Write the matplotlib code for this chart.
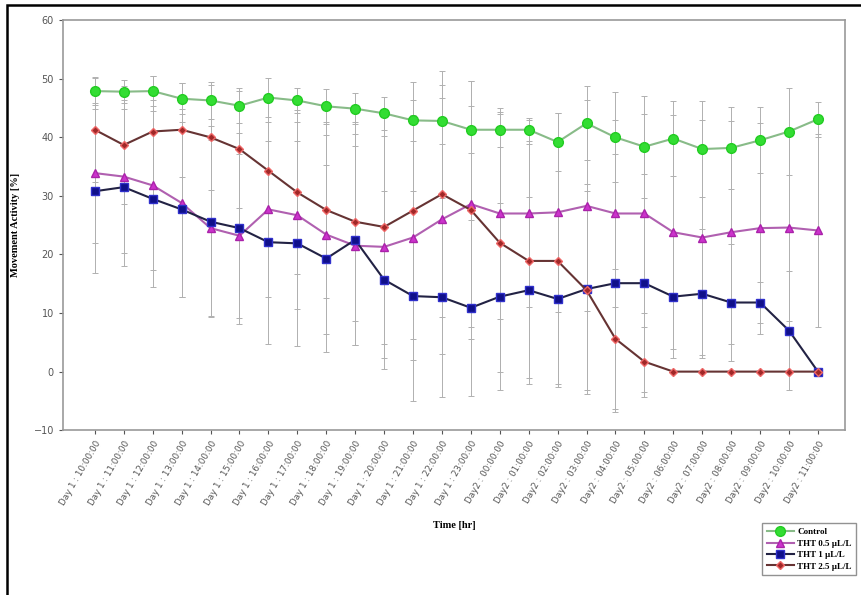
import matplotlib
matplotlib.use("Agg")
import matplotlib.pyplot as plt
from matplotlib.patches import Rectangle
import numpy as np

# time points
hours_day1 = ["10", "11", "12", "13", "14", "15", "16", "17", "18", "19", "20", "21", "22", "23"]
hours_day2 = ["00", "01", "02", "03", "04", "05", "06", "07", "08", "09", "10", "11"]
tick_labels = ["Day 1 : " + h + ":00:00" for h in hours_day1] + ["Day2 : " + h + ":00:00" for h in hours_day2]

control = [47.9, 47.8, 47.9, 46.6, 46.3, 45.4, 46.8, 46.3, 45.3, 44.9, 44.1, 42.9, 42.8, 41.3,
           41.3, 41.3, 39.2, 42.4, 40.0, 38.4, 39.8, 38.0, 38.2, 39.5, 41.0, 43.1]
tht_05 = [33.9, 33.3, 31.8, 28.8, 24.5, 23.2, 27.7, 26.7, 23.4, 21.5, 21.3, 22.9, 26.0, 28.6,
          27.0, 27.0, 27.2, 28.3, 27.0, 27.0, 23.8, 22.9, 23.8, 24.5, 24.6, 24.1]
tht_1 = [30.8, 31.5, 29.5, 27.7, 25.6, 24.5, 22.1, 21.9, 19.3, 22.5, 15.7, 12.9, 12.7, 10.9,
         12.8, 13.9, 12.4, 14.1, 15.1, 15.1, 12.8, 13.3, 11.8, 11.8, 7.0, 0.0]
tht_25 = [41.3, 38.7, 41.0, 41.3, 40.0, 38.0, 34.3, 30.6, 27.6, 25.6, 24.7, 27.5, 30.3, 27.6,
          22.0, 18.9, 18.9, 13.9, 5.6, 1.7, 0.0, 0.0, 0.0, 0.0, 0.0, 0.0]

# error (SD) estimates
control_err = [2.3, 2.0, 2.5, 2.6, 3.2, 3.0, 3.4, 2.2, 3.0, 2.7, 2.8, 3.5, 4.0, 4.0,
               3.0, 2.0, 5.0, 6.3, 7.7, 8.7, 6.4, 8.2, 7.0, 5.6, 7.5, 3.0]
tht_05_err = [12.0, 13.0, 14.5, 16.0, 15.0, 14.0, 15.0, 16.0, 17.0, 17.0, 19.0, 21.0, 23.0, 21.0,
              18.0, 16.0, 17.0, 18.0, 16.0, 17.0, 20.0, 20.0, 19.0, 18.0, 16.0, 16.5]
tht_1_err = [14.0, 13.4, 15.0, 15.0, 16.3, 16.3, 17.3, 17.5, 16.0, 18.0, 15.2, 18.0, 17.0, 15.0,
             16.0, 16.0, 15.0, 18.0, 22.0, 18.6, 10.5, 11.0, 10.0, 3.5, 10.2, 0.0]
tht_25_err = [9.0, 10.0, 9.5, 8.0, 9.0, 10.0, 12.0, 14.0, 15.0, 17.0, 20.0, 22.0, 21.0, 22.0,
              22.0, 20.0, 21.0, 17.0, 12.0, 6.0, 0.0, 0.0, 0.0, 0.0, 0.0, 0.0]

x = np.arange(len(tick_labels))

fig = plt.figure(figsize=(8.62, 5.95), dpi=100)
ax = fig.add_axes([0.0731, 0.277, 0.907, 0.689])

series = [
    ("Control", control, control_err, "o", "#33dd33", "#22cc22", "#88bb88", 7),
    ("THT 0.5 \u00b5L/L", tht_05, tht_05_err, "^", "#cc33cc", "#aa22aa", "#b060b0", 6),
    ("THT 1 \u00b5L/L", tht_1, tht_1_err, "s", "#10108a", "#3030cc", "#222244", 6),
    ("THT 2.5 \u00b5L/L", tht_25, tht_25_err, "D", "#a02828", "#ee6666", "#663333", 4.5),
]

for name, vals, errs, mk, fc, ec, lc, ms in series:
    ax.errorbar(x, vals, yerr=errs, fmt="none", ecolor="#b0b0b0", elinewidth=0.7,
                capsize=2, capthick=0.7, zorder=1)
for name, vals, errs, mk, fc, ec, lc, ms in series:
    ax.plot(x, vals, color=lc, lw=1.5, marker=mk, markersize=ms,
            markerfacecolor=fc, markeredgecolor=ec, markeredgewidth=1, label=name, zorder=3)

ax.set_xlim(-1.1, 25.93)
ax.set_ylim(-10, 60)
ax.set_yticks(range(-10, 61, 10))
ax.set_xticks(x)
ax.set_xticklabels(tick_labels, rotation=60, ha="right", rotation_mode="anchor",
                   fontsize=6.3, color="#555555", family="DejaVu Sans")
ax.tick_params(axis="y", labelsize=7, colors="#555555", length=3)
ax.tick_params(axis="x", length=3, colors="#555555")
for sp in ax.spines.values():
    sp.set_color("#999999")
    sp.set_linewidth(1.2)

ax.set_ylabel("Movement Activity [%]", family="Liberation Serif", fontweight="bold",
              fontsize=7.5, labelpad=10)
ax.set_xlabel("Time [hr]", family="Liberation Serif", fontweight="bold", fontsize=7.5, labelpad=10)

fig.legend(loc="upper left", bbox_to_anchor=(0.879, 0.128), frameon=True, fancybox=False,
           edgecolor="#777777", prop={"family": "Liberation Serif", "weight": "bold", "size": 6.5},
           handlelength=3, borderpad=0.5, labelspacing=0.35, handletextpad=0.4)

fig.patches.append(Rectangle((0.008, -0.05), 1.1, 1.041, transform=fig.transFigure,
                             fill=False, edgecolor="black", lw=1.8))

fig.savefig("out.png", dpi=100)
